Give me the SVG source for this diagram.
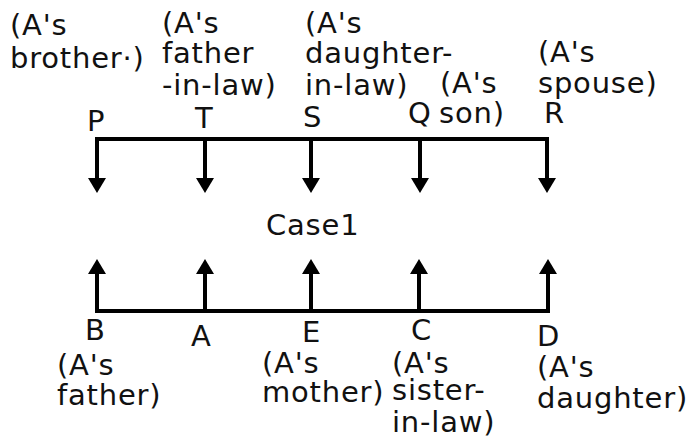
<svg xmlns="http://www.w3.org/2000/svg" width="691" height="439" viewBox="0 0 691 439">
<defs>
<style>
text{font-family:"DejaVu Sans","Verdana",sans-serif;font-size:29px;letter-spacing:0.8px;fill:#111}
.ln{stroke:#000;stroke-width:4;fill:none}
.ah{fill:#000}
</style>
</defs>
<rect width="691" height="439" fill="#fff"/>
<g id="connectors">
<path class="ln" d="M97,180 V139 H547 V180"/>
<path class="ln" d="M97,272 V311 H548 V272"/>
<g id="top-arrows">
<path class="ln" d="M205,139 V180"/>
<path class="ln" d="M311,139 V180"/>
<path class="ln" d="M420,139 V180"/>
<path class="ah" d="M88,178 H106 L97,193 Z"/>
<path class="ah" d="M196,178 H214 L205,193 Z"/>
<path class="ah" d="M302,178 H320 L311,193 Z"/>
<path class="ah" d="M411,178 H429 L420,193 Z"/>
<path class="ah" d="M538,178 H556 L547,193 Z"/>
</g>
<g id="bottom-arrows">
<path class="ln" d="M205,311 V272"/>
<path class="ln" d="M311,311 V272"/>
<path class="ln" d="M419,311 V272"/>
<path class="ah" d="M88,274 H106 L97,259 Z"/>
<path class="ah" d="M196,274 H214 L205,259 Z"/>
<path class="ah" d="M302,274 H320 L311,259 Z"/>
<path class="ah" d="M410,274 H428 L419,259 Z"/>
<path class="ah" d="M539,274 H557 L548,259 Z"/>
</g>
</g>
<g id="node-P"><text x="10" y="35">(A's</text><text x="10" y="68">brother·)</text><text x="87" y="131">P</text></g>
<g id="node-T"><text x="162" y="33">(A's</text><text x="162" y="63">father</text><text x="162" y="95">-in-law)</text><text x="195" y="128">T</text></g>
<g id="node-S"><text x="305" y="33">(A's</text><text x="305" y="63">daughter-</text><text x="305" y="95">in-law)</text><text x="303" y="127">S</text></g>
<g id="node-Q"><text x="440" y="93">(A's</text><text x="408" y="123">Q</text><text x="439" y="123">son)</text></g>
<g id="node-R"><text x="538" y="62">(A's</text><text x="538" y="93">spouse)</text><text x="544" y="123">R</text></g>
<g id="case"><text x="266" y="235">Case1</text></g>
<g id="node-B"><text x="85" y="340">B</text><text x="57" y="375">(A's</text><text x="57" y="405">father)</text></g>
<g id="node-A"><text x="191" y="346">A</text></g>
<g id="node-E"><text x="302" y="342">E</text><text x="262" y="373">(A's</text><text x="262" y="402">mother)</text></g>
<g id="node-C"><text x="411" y="340">C</text><text x="392" y="373">(A's</text><text x="392" y="400">sister-</text><text x="392" y="432">in-law)</text></g>
<g id="node-D"><text x="537" y="346">D</text><text x="537" y="377">(A's</text><text x="537" y="408">daughter)</text></g>
</svg>
